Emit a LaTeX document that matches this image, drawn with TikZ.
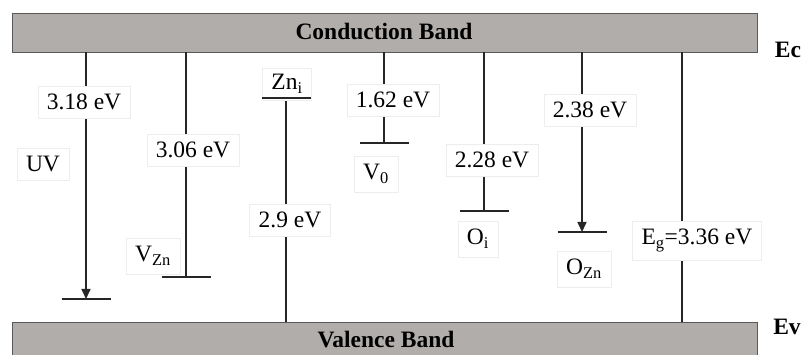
\documentclass[tikz,border=0pt]{standalone}
\usepackage{fontspec}
\setmainfont{Liberation Serif}
\usetikzlibrary{arrows.meta}
\definecolor{bandgray}{HTML}{B1ADAB}
\definecolor{bandedge}{HTML}{5A5858}
\tikzset{
  band/.style={draw=bandedge, line width=0.9pt, fill=bandgray, inner sep=0pt},
  bandtext/.style={font=\fontsize{23.5}{28}\selectfont\bfseries, anchor=base, inner sep=0pt},
  lab/.style={font=\fontsize{23.5}{28}\selectfont, anchor=base, fill=white, draw=black!7, line width=0.4pt, inner xsep=9pt, inner ysep=8pt},
  conn/.style={line width=1.6pt, black!85},
  tick/.style={line width=1.6pt, black!85},
  arr/.style={conn, -{Triangle[length=10pt,width=9pt]}}
}
\begin{document}
\begin{tikzpicture}[x=1pt,y=-1pt]
\useasboundingbox (0,0) rectangle (801,355);
% bands
\node[band, minimum width=745pt, minimum height=39pt] (cb) at (384.5,32.5) {};
\node[band, minimum width=745pt, minimum height=40pt] (vb) at (384.5,342) {};
\node[bandtext] (cbt) at (384,40) {Conduction Band};
\node[bandtext] (vbt) at (386,348) {Valence Band};
\node[bandtext] (ec) at (788,58) {Ec};
\node[bandtext] (ev) at (787,335) {Ev};
% level coordinates
\coordinate (t1) at (86,299);
\coordinate (t2) at (186,277);
\coordinate (t3) at (286,98);
\coordinate (t4) at (384,143);
\coordinate (t5) at (484,211);
\coordinate (t6) at (582,232);
\coordinate (t7) at (682,0);
% connectors
\draw[arr] (t1 |- cb.south) -- (t1);
\draw[conn] (t2 |- cb.south) -- (t2);
\draw[conn] (t3) -- (t3 |- vb.north);
\draw[conn] (t4 |- cb.south) -- (t4);
\draw[conn] (t5 |- cb.south) -- (t5);
\draw[arr] (t6 |- cb.south) -- (t6);
\draw[conn] (t7 |- cb.south) -- (t7 |- vb.north);
% labels
\node[lab] (e1) at (84,110) {3.18 eV};
\node[lab] (uv) at (43,172) {UV};
\node[lab] (e2) at (193,158) {3.06 eV};
\node[lab] (vzn) at (153,262) {V\textsubscript{Zn}};
\node[lab, inner ysep=6pt] (zni) at (287,90) {Zn\textsubscript{i}};
\node[lab] (e3) at (290,228) {2.9 eV};
\node[lab] (e4) at (393,108) {1.62 eV};
\node[lab] (v0) at (376,180) {V\textsubscript{0}};
\node[lab] (e5) at (492,168) {2.28 eV};
\node[lab] (oi) at (478,245) {O\textsubscript{i}};
\node[lab] (e6) at (590,118) {2.38 eV};
\node[lab] (ozn) at (584,275) {O\textsubscript{Zn}};
\node[lab] (eg) at (697,245) {E\textsubscript{g}=3.36 eV};
% ticks (drawn last so no label box hides them)
\foreach \t in {t1,t2,t3,t4,t5,t6}{
  \draw[tick] ([xshift=-24.5pt]\t) -- ([xshift=24.5pt]\t);
}
\end{tikzpicture}
\end{document}
